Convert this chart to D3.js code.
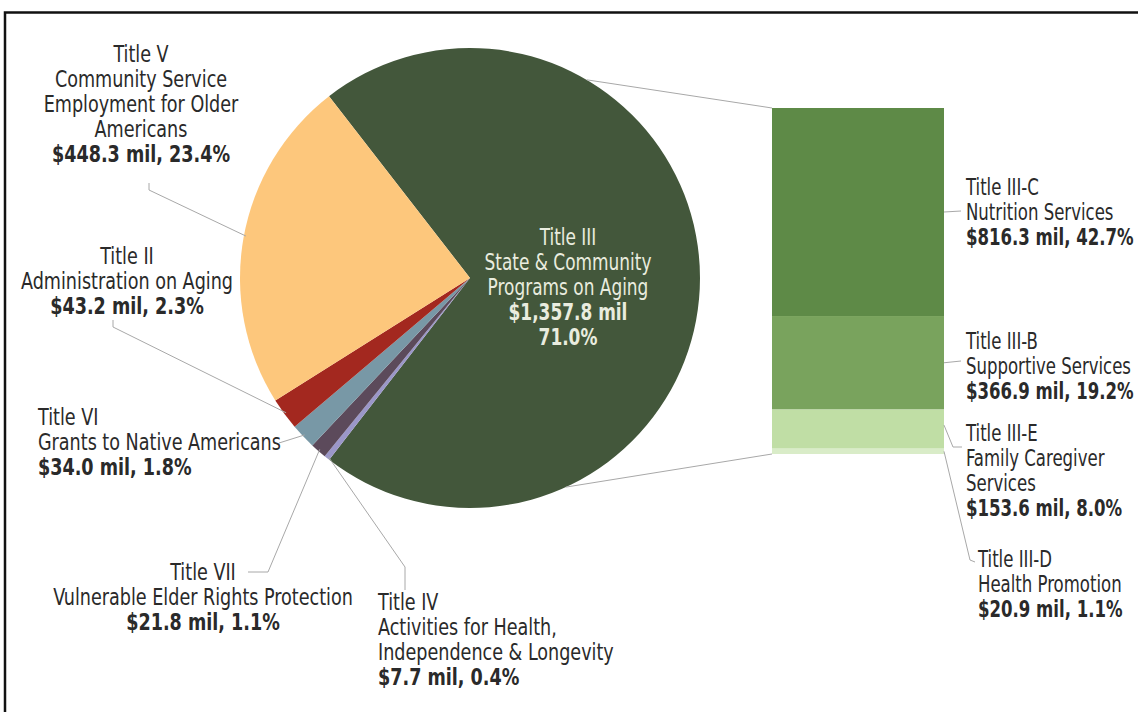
<!DOCTYPE html>
<html>
<head>
<meta charset="utf-8">
<title>Older Americans Act funding by title</title>
<style>
  body { margin: 0; background: #fff; }
  svg { display: block; }
  text { font-family: "Liberation Sans Narrow", "DejaVu Sans Condensed", sans-serif; fill: #2a2a2a; }
  .val { font-weight: bold; }
</style>
</head>
<body>
<svg id="chart" width="1138" height="712"></svg>
<script src="https://cdn.jsdelivr.net/npm/d3@7"></script>
<script>
// pie slices, clockwise from Title III
const titles = ["Title III", "Title IV", "Title VII", "Title VI", "Title II", "Title V"];
const descs = [
  ["State & Community", "Programs on Aging"],
  ["Activities for Health,", "Independence & Longevity"],
  ["Vulnerable Elder Rights Protection"],
  ["Grants to Native Americans"],
  ["Administration on Aging"],
  ["Community Service", "Employment for Older", "Americans"]
];
const amounts = [1357.8, 7.7, 21.8, 34.0, 43.2, 448.3];
const shares = [71.0, 0.4, 1.1, 1.8, 2.3, 23.4];

// Title III broken down in the bar
const subTitles = ["Title III-C", "Title III-B", "Title III-E", "Title III-D"];
const subDescs = [["Nutrition Services"], ["Supportive Services"], ["Family Caregiver", "Services"], ["Health Promotion"]];
const subAmounts = [816.3, 366.9, 153.6, 20.9];
const subShares = [42.7, 19.2, 8.0, 1.1];

const pieColors = ["#43573b", "#9b97c9", "#5c4a5b", "#7898a6", "#a3281f", "#fdc77c"];
const barColors = ["#5e8a47", "#79a35d", "#c0dea5", "#d9ecc8"];

const fmt = d3.format(",.1f");
const svg = d3.select("#chart");

// frame
svg.append("path").attr("d", "M5,712 V12.5 H1138")
  .attr("fill", "none").attr("stroke", "#111").attr("stroke-width", 2.5);

const cx = 470, cy = 278, R = 230;
const rad = Math.PI / 180;
const pie = d3.pie().sort(null).value(d => d)
  .startAngle(-37.8 * rad).endAngle(322.2 * rad);
const arcs = pie(amounts);
const arc = d3.arc().innerRadius(0).outerRadius(R);
const onPie = (a, r = R) => [cx + r * Math.sin(a), cy - r * Math.cos(a)];

const g = svg.append("g").attr("transform", `translate(${cx},${cy})`);
g.selectAll("path").data(arcs).enter().append("path")
  .attr("d", arc).attr("fill", (d, i) => pieColors[i]);

// bar
const total = d3.sum(subAmounts);
const barX = 772, barW = 172;
const y = d3.scaleLinear().domain([0, total]).range([108, 454]);
const stack = d3.cumsum([0].concat(subAmounts));
svg.selectAll("rect.seg").data(subAmounts).enter().append("rect")
  .attr("class", "seg")
  .attr("x", barX).attr("width", barW)
  .attr("y", (d, i) => y(stack[i]))
  .attr("height", d => y(d) - y(0))
  .attr("fill", (d, i) => barColors[i]);

// connector lines pie -> bar
const lineCol = "#a8a8a8";
const pTop = onPie(30.5 * rad), pBot = onPie(155.4 * rad);
svg.append("line").attr("x1", pTop[0]).attr("y1", pTop[1]).attr("x2", barX).attr("y2", y(0))
  .attr("stroke", lineCol).attr("stroke-width", 1);
svg.append("line").attr("x1", pBot[0]).attr("y1", pBot[1]).attr("x2", barX).attr("y2", y(total))
  .attr("stroke", lineCol).attr("stroke-width", 1);

// label block helper, squeezed horizontally to mimic a condensed face
function block(x, y0, anchor, lines, bold, color, size, lh, sx = 0.85) {
  const t = svg.append("text").attr("text-anchor", anchor).style("font-size", size + "px")
    .attr("transform", `translate(${x},${y0}) scale(${sx},1)`);
  lines.forEach((s, i) => {
    t.append("tspan").attr("x", 0).attr("y", i * lh).text(s)
      .attr("class", bold.includes(i) ? "val" : null)
      .style("fill", color);
  });
  return t;
}

const FS = 23, LH = 25;
const lab = i => [titles[i]].concat(descs[i]);
const valStr = (a, s) => `$${fmt(a)} mil, ${s.toFixed(1)}%`;

// Title III inside the pie
block(568, 245, "middle", lab(0).concat([`$${fmt(amounts[0])} mil`, `${shares[0].toFixed(1)}%`]),
  [3, 4], "#e9ecdf", FS, 25, 0.82);

// outside pie labels: [x, y, anchor]
const labelPos = [null, [378, 610, "start"], [203, 580, "middle"], [38, 425, "start"], [127, 264, "middle"], [141, 62, "middle"]];
for (let i = 1; i < titles.length; i++) {
  const lines = lab(i).concat([valStr(amounts[i], shares[i])]);
  const [x, yy, an] = labelPos[i];
  block(x, yy, an, lines, [lines.length - 1], "#2a2a2a", FS, LH);
}

// leaders for pie labels: fixed elbow points, end on the slice edge
const mid = d => (d.startAngle + d.endAngle) / 2;
const leaders = [
  null,
  [[405, 590], [405, 567]],
  [[248, 572], [268, 572]],
  [[279, 443]],
  [[113, 320], [113, 327]],
  [[149, 183], [149, 190]]
];
const lineGen = d3.line();
for (let i = 1; i < titles.length; i++) {
  const pts = leaders[i].concat([onPie(i === 5 ? -79.4 * rad : mid(arcs[i]), R - 2)]);
  svg.append("path").attr("d", lineGen(pts))
    .attr("fill", "none").attr("stroke", lineCol).attr("stroke-width", 1);
}

// bar labels
const subPos = [[966, 195], [966, 349], [966, 441], [978, 567]];
const subLeaders = [
  [[944, 0], [961, 211]],
  [[944, 0], [961, 361]],
  [[944, 0], [953, 447], [962, 447]],
  [[944, 0], [970, 560], [975, 562]]
];
subTitles.forEach((t, i) => {
  const lines = [t].concat(subDescs[i]).concat([valStr(subAmounts[i], subShares[i])]);
  block(subPos[i][0], subPos[i][1], "start", lines, [lines.length - 1], "#2a2a2a", FS, LH, 0.8);
  const pts = subLeaders[i].map(p => p.slice());
  pts[0][1] = y((stack[i] + stack[i + 1]) / 2) - (i === 2 ? 4 : 0);
  svg.append("path").attr("d", lineGen(pts))
    .attr("fill", "none").attr("stroke", lineCol).attr("stroke-width", 1);
});
</script>
</body>
</html>
